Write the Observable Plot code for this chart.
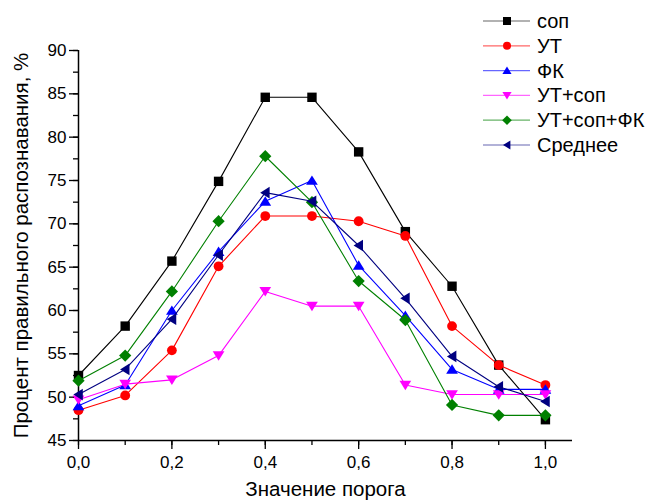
<!DOCTYPE html>
<html><head><meta charset="utf-8">
<script src="https://cdn.jsdelivr.net/npm/d3@7"></script>
<script src="https://cdn.jsdelivr.net/npm/@observablehq/plot@0.6"></script>
<style>
body{margin:0;background:#fff}
#chart{position:relative;width:647px;height:502px}
#chart svg{font-family:"Liberation Sans",Arial,sans-serif}
</style>
</head><body><div id="chart"></div>
<script>
// ---- data ----
const thresholds = [0.0,0.1,0.2,0.3,0.4,0.5,0.6,0.7,0.8,0.9,1.0];
const sop      = [52.5,58.2,65.7,74.9,84.6,84.6,78.3,69.1,62.8,53.7,47.4];
const ut       = [48.5,50.2,55.4,65.1,70.9,70.9,70.3,68.6,58.2,53.7,51.4];
const fk       = [49.0,51.4,60.0,66.8,72.6,75.0,65.2,59.4,53.2,50.9,50.9];
const utSop    = [49.7,51.5,52.0,54.8,62.2,60.5,60.5,51.4,50.3,50.3,50.3];
const utSopFk  = [51.9,54.8,62.2,70.3,77.8,72.5,63.4,58.9,49.1,47.9,47.9];
const average  = [50.3,53.2,59.0,66.4,73.6,72.6,67.5,61.4,54.7,51.2,49.5];
const seriesNames  = ["соп","УТ","ФК","УТ+соп","УТ+соп+ФК","Среднее"];
const seriesValues = [sop, ut, fk, utSop, utSopFk, average];
const seriesColors = ["#000000","#ff0000","#0000ff","#ff00ff","#008000","#000080"];
const yTicks = [45,50,55,60,65,70,75,80,85,90];
const xTicks = [0,0.2,0.4,0.6,0.8,1.0];
const yLabel = "Процент правильного распознавания, %";
const xLabel = "Значение порога";

// ---- marker shapes ----
const R = s => Math.sqrt(s/Math.PI);
const symSquare = {draw(c,s){const r=R(s);c.rect(-r,-r,2*r,2*r);}};
const symCircle = {draw(c,s){const r=R(s);c.moveTo(r,0);c.arc(0,0,r,0,2*Math.PI);}};
const symUp = {draw(c,s){const r=R(s);c.moveTo(0,-r);c.lineTo(1.15*r,0.85*r);c.lineTo(-1.15*r,0.85*r);c.closePath();}};
const symDown = {draw(c,s){const r=R(s);c.moveTo(0,r);c.lineTo(1.15*r,-0.85*r);c.lineTo(-1.15*r,-0.85*r);c.closePath();}};
const symLeft = {draw(c,s){const r=R(s);c.moveTo(-r,0);c.lineTo(0.85*r,-1.15*r);c.lineTo(0.85*r,1.15*r);c.closePath();}};
const symDiamond = {draw(c,s){const r=R(s);c.moveTo(0,-1.2*r);c.lineTo(1.2*r,0);c.lineTo(0,1.2*r);c.lineTo(-1.2*r,0);c.closePath();}};
const seriesSymbols = [symSquare, symCircle, symUp, symDown, symDiamond, symLeft];
const seriesR = [4.7, 4.9, 5.1, 5.1, 5.1, 5.1];

const marks = [];
seriesValues.forEach((vals, k) => {
  const rows = thresholds.map((t, i) => ({x: t, y: vals[i]}));
  marks.push(Plot.line(rows, {x: "x", y: "y", stroke: seriesColors[k], strokeWidth: 1.1}));
  marks.push(Plot.dot(rows, {x: "x", y: "y", fill: seriesColors[k], stroke: "none", symbol: seriesSymbols[k], r: seriesR[k]}));
});

const chart = Plot.plot({
  width: 647, height: 502,
  marginLeft: 78, marginRight: 75, marginTop: 50, marginBottom: 62,
  style: {fontFamily: '"Liberation Sans", Arial, sans-serif', fontSize: "17px", color: "#000", background: "#fff"},
  x: {domain: [0, 1.058]},
  y: {domain: [45, 90]},
  marks: [
    Plot.axisY({ticks: d3.range(45, 90.1, 2.5), tickSize: 5, tickFormat: () => "", label: null, strokeWidth: 1.3}),
    Plot.axisX({ticks: d3.range(0, 1.01, 0.1), tickSize: 5, tickFormat: () => "", label: null, strokeWidth: 1.3}),
    Plot.axisY({ticks: yTicks, tickSize: 9, tickPadding: 3, tickFormat: d => String(d), fontSize: 17,
      strokeWidth: 1.3, label: null}),
    Plot.axisX({ticks: xTicks, tickSize: 9, tickPadding: 6, tickFormat: d => d.toFixed(1).replace(".", ","), fontSize: 17,
      strokeWidth: 1.3, label: null}),
    Plot.axisY({ticks: [], tickSize: 0, fontSize: 20.5, label: yLabel, labelAnchor: "center", labelArrow: "none", labelOffset: 65}),
    Plot.axisX({ticks: [], tickSize: 0, fontSize: 20.5, label: xLabel, labelAnchor: "center", labelArrow: "none", labelOffset: 55}),
    Plot.ruleX([0], {strokeWidth: 1.5}),
    Plot.ruleY([45], {strokeWidth: 1.5}),
    ...marks
  ]
});
document.getElementById("chart").appendChild(chart);

// ---- legend ----
const svg = d3.select(chart);
const lg = svg.append("g").attr("transform", "translate(483,21)").attr("text-anchor", "start");
seriesNames.forEach((name, k) => {
  const g = lg.append("g").attr("transform", `translate(0,${k * 24.8})`);
  g.append("line").attr("x1", 0).attr("x2", 47).attr("y1", 0).attr("y2", 0)
    .attr("stroke", seriesColors[k]).attr("stroke-opacity", 0.6).attr("stroke-width", 1.2);
  g.append("path").attr("transform", "translate(24,0)")
    .attr("d", d3.symbol(seriesSymbols[k], Math.PI * 4 * 4)()).attr("fill", seriesColors[k]);
  g.append("text").attr("x", 54).attr("y", 0).attr("dy", "0.35em").attr("text-anchor", "start")
    .style("font-size", "20px").style("font-family", '"Liberation Sans", Arial, sans-serif').text(name);
});
</script>
</body></html>
